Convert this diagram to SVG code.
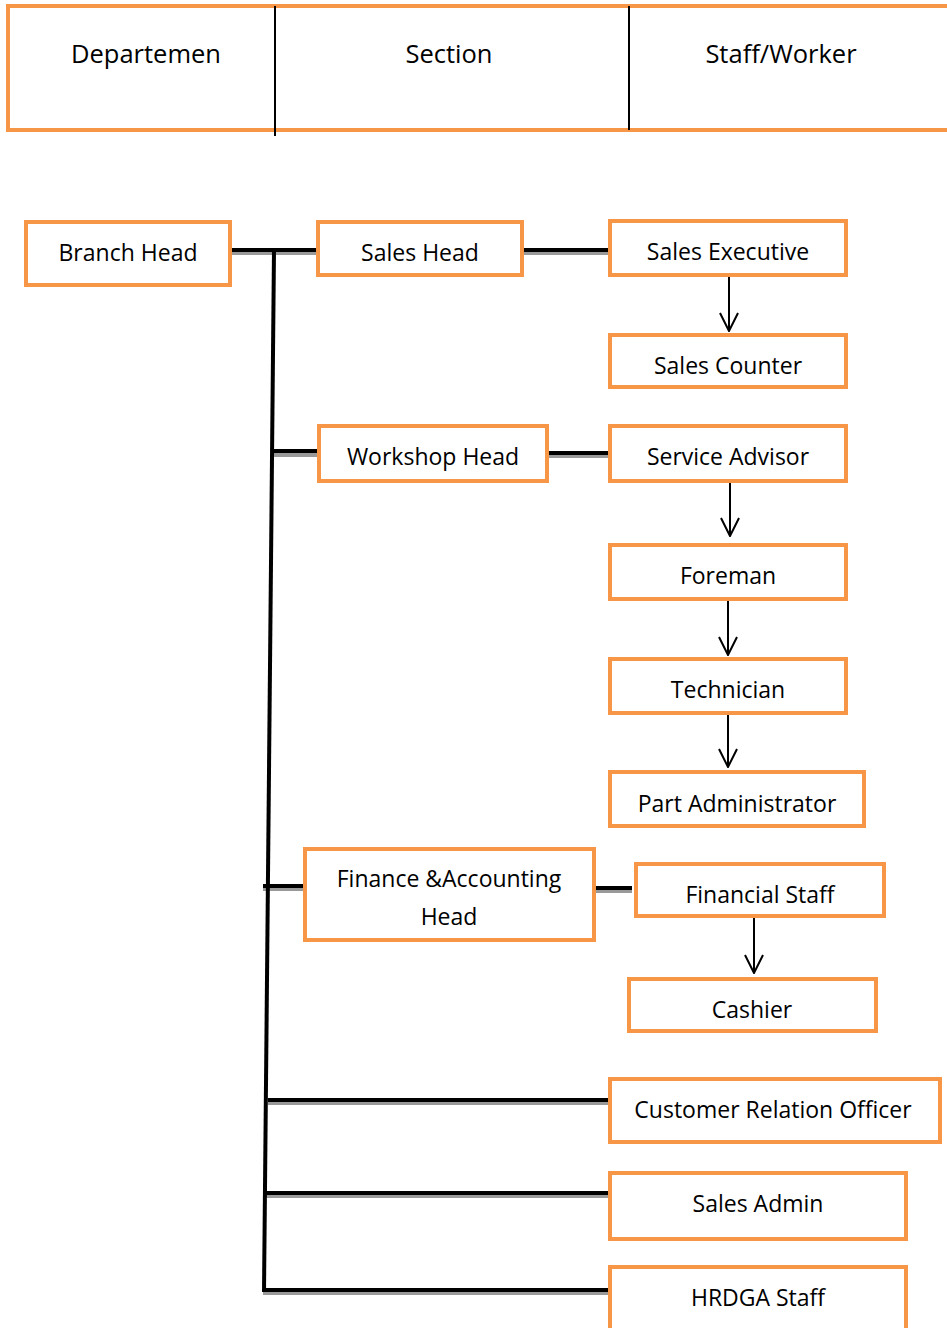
<svg xmlns="http://www.w3.org/2000/svg" width="947" height="1328" viewBox="0 0 947 1328">
<style>
.box{fill:#fff;stroke:#f79646;stroke-width:4}
.t{font-family:"Open Sans","Noto Sans","Liberation Sans",sans-serif;font-size:23px;fill:#000;text-anchor:middle;dominant-baseline:central}
.h{font-size:25.5px}
.thick{stroke:#000;stroke-width:4;fill:none}
.sh{stroke:#999;stroke-width:4;fill:none}
.thin{stroke:#000;stroke-width:2;fill:none}
.arr{stroke:#000;stroke-width:2;fill:none;marker-end:url(#v)}
</style>
<defs>
<marker id="v" viewBox="0 0 20 20" refX="19" refY="10" markerWidth="20" markerHeight="20" markerUnits="userSpaceOnUse" orient="auto">
<path d="M1,1 L19,10 L1,19" fill="none" stroke="#000" stroke-width="2"/>
</marker>
</defs>
<g id="header">
<rect class="box" x="8" y="6" width="945" height="124"/>
<line class="thin" x1="275" y1="6" x2="275" y2="136"/>
<line class="thin" x1="629" y1="6" x2="629" y2="130"/>
<text class="t h" x="146" y="53">Departemen</text>
<text class="t h" x="449" y="53">Section</text>
<text class="t h" x="781" y="53">Staff/Worker</text>
</g>
<g id="connectors">
<g transform="translate(0,3)">
<line class="sh" x1="230" y1="250" x2="318" y2="250"/>
<line class="sh" x1="522" y1="250" x2="610" y2="250"/>
<line class="sh" x1="274" y1="452" x2="319" y2="452"/>
<line class="sh" x1="547" y1="453" x2="610" y2="453"/>
<line class="sh" x1="263" y1="886" x2="305" y2="886"/>
<line class="sh" x1="594" y1="888" x2="632" y2="888"/>
<line class="sh" x1="268" y1="1100" x2="610" y2="1100"/>
<line class="sh" x1="266" y1="1193" x2="610" y2="1193"/>
<line class="sh" x1="263" y1="1290" x2="610" y2="1290"/>
</g>
<line class="thick" x1="230" y1="250" x2="318" y2="250"/>
<line class="thick" x1="274" y1="250" x2="264" y2="1292"/>
<line class="thick" x1="522" y1="250" x2="610" y2="250"/>
<line class="thick" x1="274" y1="451" x2="319" y2="451"/>
<line class="thick" x1="547" y1="453" x2="610" y2="453"/>
<line class="thick" x1="263" y1="886" x2="305" y2="886"/>
<line class="thick" x1="594" y1="888" x2="632" y2="888"/>
<line class="thick" x1="268" y1="1100" x2="610" y2="1100"/>
<line class="thick" x1="266" y1="1193" x2="610" y2="1193"/>
<line class="thick" x1="263" y1="1290" x2="610" y2="1290"/>
<line class="arr" x1="729" y1="275" x2="729" y2="331"/>
<line class="arr" x1="730" y1="481" x2="730" y2="536"/>
<line class="arr" x1="728" y1="599" x2="728" y2="655"/>
<line class="arr" x1="728" y1="713" x2="728" y2="767"/>
<line class="arr" x1="754" y1="916" x2="754" y2="973"/>
</g>
<g id="branch-head"><rect class="box" x="26" y="222" width="204" height="63"/><text class="t" x="128" y="252">Branch Head</text></g>
<g id="sales-head"><rect class="box" x="318" y="222" width="204" height="53"/><text class="t" x="420" y="252">Sales Head</text></g>
<g id="sales-executive"><rect class="box" x="610" y="221" width="236" height="54"/><text class="t" x="728" y="251">Sales Executive</text></g>
<g id="sales-counter"><rect class="box" x="610" y="335" width="236" height="52"/><text class="t" x="728" y="365">Sales Counter</text></g>
<g id="workshop-head"><rect class="box" x="319" y="426" width="228" height="55"/><text class="t" x="433" y="456">Workshop Head</text></g>
<g id="service-advisor"><rect class="box" x="610" y="426" width="236" height="55"/><text class="t" x="728" y="456">Service Advisor</text></g>
<g id="foreman"><rect class="box" x="610" y="545" width="236" height="54"/><text class="t" x="728" y="575">Foreman</text></g>
<g id="technician"><rect class="box" x="610" y="659" width="236" height="54"/><text class="t" x="728" y="689">Technician</text></g>
<g id="part-administrator"><rect class="box" x="610" y="772" width="254" height="54"/><text class="t" x="737" y="803">Part Administrator</text></g>
<g id="finance-head"><rect class="box" x="305" y="849" width="289" height="91"/><text class="t" x="449" y="878">Finance &amp;Accounting</text><text class="t" x="449" y="916">Head</text></g>
<g id="financial-staff"><rect class="box" x="636" y="864" width="248" height="52"/><text class="t" x="760" y="894">Financial Staff</text></g>
<g id="cashier"><rect class="box" x="629" y="979" width="247" height="52"/><text class="t" x="752" y="1009">Cashier</text></g>
<g id="customer-relation-officer"><rect class="box" x="610" y="1079" width="330" height="63"/><text class="t" x="773" y="1109">Customer Relation Officer</text></g>
<g id="sales-admin"><rect class="box" x="610" y="1173" width="296" height="66"/><text class="t" x="758" y="1203">Sales Admin</text></g>
<g id="hrdga-staff"><rect class="box" x="610" y="1267" width="296" height="80"/><text class="t" x="758" y="1297">HRDGA Staff</text></g>
</svg>
